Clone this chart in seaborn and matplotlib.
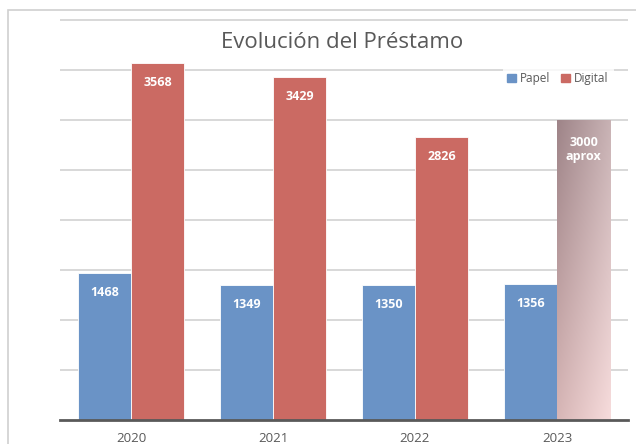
import numpy as np
import pandas as pd
import matplotlib
matplotlib.use('Agg')
import matplotlib.pyplot as plt
import matplotlib.patches as mpatches
import seaborn as sns

# Data
years = ['2020', '2021', '2022', '2023']
papel = [1468, 1349, 1350, 1356]
digital = [3568, 3429, 2826, 3000]
labels_digital = ['3568', '3429', '2826', '3000\naprox']
series_names = ['Papel', 'Digital']

blue = '#6a93c6'
red = '#cb6a63'
gray_txt = '#595959'

df = pd.DataFrame({
    'Año': years * 2,
    'Valor': papel + digital,
    'Tipo': [series_names[0]] * len(years) + [series_names[1]] * len(years),
})

sns.set_theme(style='white')
plt.rcParams['font.family'] = ['Open Sans', 'DejaVu Sans']

fig = plt.figure(figsize=(6.36, 4.44), dpi=100)
ymax = 4050
ax_h = 400 * ymax / 4000 / 444
ax = fig.add_axes([60 / 636, 24 / 444, 568 / 636, ax_h])

sns.barplot(data=df, x='Año', y='Valor', hue='Tipo', palette=[blue, red],
            width=0.75, saturation=1, edgecolor='white', linewidth=0.6, ax=ax)

# Gradient for the estimated 2023 bar (dark top-left -> light pink bottom-right)
bar = ax.containers[1][3]
bx, by = bar.get_x(), bar.get_y()
bw, bh = bar.get_width(), bar.get_height()
tl = np.array([158, 132, 136]) / 255
tr = np.array([200, 178, 180]) / 255
bl = np.array([215, 182, 182]) / 255
br = np.array([247, 220, 220]) / 255
nx, ny = 60, 200
u = np.linspace(0, 1, nx)[None, :, None]
v = np.linspace(0, 1, ny)[:, None, None]
grad = (1 - v) * ((1 - u) * tl + u * tr) + v * ((1 - u) * bl + u * br)
bar.set_facecolor('none')
im = ax.imshow(grad, extent=[bx, bx + bw, by, by + bh], aspect='auto',
               origin='upper', zorder=bar.get_zorder())
im.set_clip_path(bar)

ax.set_xlim(-0.5, 3.5)
ax.set_ylim(0, ymax)

# Gridlines
ax.set_yticks(np.arange(500, 4001, 500))
ax.yaxis.grid(True, color='#d6d6d6', linewidth=1.3)
ax.set_axisbelow(True)
ax.tick_params(axis='y', left=False, labelleft=False)
ax.tick_params(axis='x', bottom=False, labelsize=9.5, labelcolor=gray_txt, pad=2.5)
for s in ['top', 'right', 'left']:
    ax.spines[s].set_visible(False)
ax.spines['bottom'].set_color(gray_txt)
ax.spines['bottom'].set_linewidth(2)
ax.set_xlabel('')
ax.set_ylabel('')

# Value labels
for rect, val in zip(ax.containers[0], papel):
    ax.annotate(str(val), (rect.get_x() + rect.get_width() / 2, rect.get_height()),
                xytext=(0, -14), textcoords='offset points', ha='center', va='center',
                color='white', fontsize=9, fontweight='bold')
for rect, lab in zip(ax.containers[1], labels_digital):
    off = -14 if '\n' not in lab else -21
    ax.annotate(lab, (rect.get_x() + rect.get_width() / 2, rect.get_height()),
                xytext=(0, off), textcoords='offset points', ha='center', va='center',
                color='white', fontsize=9, fontweight='bold', linespacing=1.1)

# Title
fig.text(342 / 636, 1 - 42 / 444, 'Evolución del Préstamo', ha='center', va='center',
         fontsize=16, color=gray_txt)

# Legend
handles = [mpatches.Patch(color=blue), mpatches.Patch(color=red)]
leg = ax.legend(handles, series_names, loc='upper right', bbox_to_anchor=(0.985, 0.885),
                ncol=2, frameon=True, fontsize=8.5, handlelength=0.7, handleheight=0.7,
                handletextpad=0.4, columnspacing=0.9, borderpad=0.4)
leg.get_frame().set_facecolor('white')
leg.get_frame().set_edgecolor('none')
for t in leg.get_texts():
    t.set_color(gray_txt)

# Outer chart border
fig.patches.append(mpatches.Rectangle((8 / 636, -0.02), 1.0, 1 - 10 / 444 + 0.02,
                                      transform=fig.transFigure, fill=False,
                                      edgecolor='#d0d0d0', linewidth=1.2))

fig.savefig('out.png', dpi=100)
